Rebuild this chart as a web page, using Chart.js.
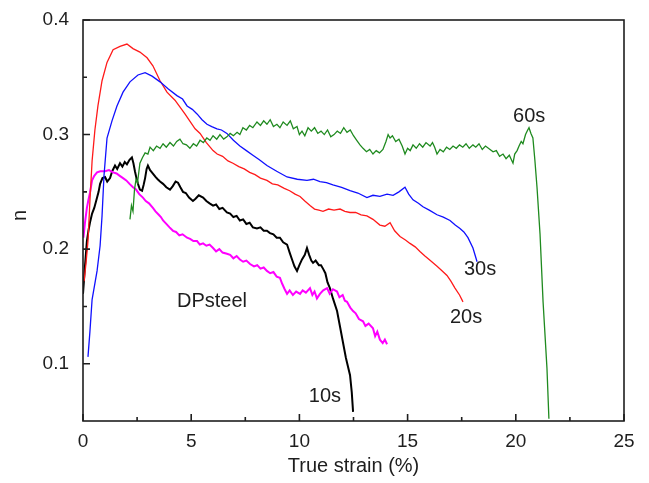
<!DOCTYPE html>
<html>
<head>
<meta charset="utf-8">
<script src="https://cdn.jsdelivr.net/npm/chart.js@4/dist/chart.umd.min.js"></script>
<style>
  html, body { margin: 0; padding: 0; background: #fff; }
  #wrap { width: 649px; height: 483px; }
</style>
</head>
<body>
<div id="wrap"><canvas id="nChart" width="649" height="483"></canvas></div>
<script>
// axis ticks
const xMajor = [0, 5, 10, 15, 20, 25];
const xMinor = [2.5, 7.5, 12.5, 17.5, 22.5];
const yMajor = [0.1, 0.2, 0.3, 0.4];
const yMinor = [0.15, 0.25, 0.35];

// series: true strain (%) and n value
const s20x = [0.05, 0.14, 0.23, 0.32, 0.42, 0.55, 0.69, 0.88, 1.11, 1.39, 1.71, 2.03, 2.31, 2.63, 2.96, 3.23, 3.56, 3.88, 4.25, 4.71, 5.18, 5.41, 5.70, 6.01, 6.20, 6.45, 6.70, 6.93, 7.20, 7.45, 7.70, 7.95, 8.20, 8.50, 8.75, 9.00, 9.30, 9.55, 9.80, 10.03, 10.25, 10.49, 10.70, 10.90, 11.09, 11.35, 11.60, 11.88, 12.10, 12.34, 12.60, 12.85, 13.12, 13.40, 13.72, 13.95, 14.19, 14.40, 14.65, 14.90, 15.11, 15.35, 15.57, 15.80, 16.05, 16.36, 16.60, 16.82, 17.00, 17.19, 17.40, 17.56];
const s20y = [0.172, 0.188, 0.207, 0.242, 0.277, 0.304, 0.325, 0.347, 0.363, 0.374, 0.377, 0.379, 0.375, 0.372, 0.367, 0.360, 0.347, 0.337, 0.330, 0.318, 0.305, 0.301, 0.293, 0.286, 0.283, 0.281, 0.277, 0.275, 0.272, 0.270, 0.267, 0.265, 0.262, 0.260, 0.257, 0.256, 0.253, 0.251, 0.248, 0.246, 0.242, 0.238, 0.235, 0.234, 0.233, 0.235, 0.234, 0.235, 0.233, 0.232, 0.232, 0.230, 0.229, 0.226, 0.221, 0.220, 0.223, 0.216, 0.211, 0.208, 0.205, 0.202, 0.198, 0.194, 0.190, 0.185, 0.181, 0.177, 0.172, 0.166, 0.160, 0.154];

const s30x = [0.23, 0.32, 0.42, 0.65, 0.79, 0.88, 0.97, 1.11, 1.34, 1.57, 1.85, 2.17, 2.54, 2.87, 3.19, 3.56, 3.93, 4.34, 4.60, 4.81, 5.05, 5.27, 5.50, 5.73, 5.95, 6.19, 6.40, 6.65, 6.95, 7.25, 7.55, 7.85, 8.15, 8.50, 8.95, 9.43, 9.90, 10.35, 10.65, 10.95, 11.25, 11.55, 11.95, 12.34, 12.70, 13.12, 13.40, 13.72, 14.05, 14.33, 14.60, 14.88, 15.05, 15.25, 15.50, 15.71, 16.00, 16.36, 16.65, 16.96, 17.20, 17.42, 17.60, 17.79, 18.02, 18.21];
const s30y = [0.106, 0.128, 0.156, 0.181, 0.203, 0.229, 0.264, 0.297, 0.312, 0.325, 0.337, 0.346, 0.352, 0.354, 0.351, 0.346, 0.340, 0.334, 0.331, 0.325, 0.322, 0.318, 0.313, 0.309, 0.307, 0.305, 0.304, 0.301, 0.295, 0.290, 0.286, 0.282, 0.278, 0.273, 0.268, 0.263, 0.261, 0.260, 0.261, 0.259, 0.258, 0.256, 0.254, 0.251, 0.249, 0.245, 0.247, 0.246, 0.248, 0.247, 0.250, 0.254, 0.248, 0.243, 0.240, 0.237, 0.234, 0.230, 0.228, 0.225, 0.221, 0.218, 0.215, 0.210, 0.201, 0.189];

const s60x = [2.17, 2.24, 2.31, 2.38, 2.45, 2.52, 2.63, 2.75, 2.87, 3.00, 3.10, 3.25, 3.40, 3.56, 3.70, 3.85, 4.02, 4.18, 4.33, 4.48, 4.62, 4.78, 4.94, 5.10, 5.25, 5.41, 5.56, 5.72, 5.87, 6.01, 6.18, 6.33, 6.50, 6.65, 6.80, 6.95, 7.12, 7.25, 7.39, 7.55, 7.70, 7.85, 8.04, 8.20, 8.35, 8.50, 8.65, 8.80, 8.96, 9.10, 9.25, 9.43, 9.58, 9.72, 9.89, 10.00, 10.12, 10.25, 10.40, 10.55, 10.70, 10.85, 11.00, 11.15, 11.30, 11.45, 11.60, 11.75, 11.90, 12.05, 12.20, 12.35, 12.50, 12.65, 12.80, 12.94, 13.10, 13.25, 13.40, 13.55, 13.70, 13.86, 14.00, 14.10, 14.19, 14.30, 14.45, 14.60, 14.75, 14.88, 15.00, 15.12, 15.25, 15.40, 15.55, 15.70, 15.85, 16.04, 16.15, 16.25, 16.36, 16.50, 16.65, 16.80, 16.95, 17.10, 17.25, 17.40, 17.55, 17.70, 17.85, 18.02, 18.15, 18.30, 18.45, 18.60, 18.81, 18.95, 19.10, 19.25, 19.41, 19.55, 19.70, 19.87, 19.95, 20.06, 20.15, 20.25, 20.33, 20.45, 20.55, 20.61, 20.70, 20.79, 20.88, 20.98, 21.12, 21.26, 21.44, 21.53];
const s60y = [0.226, 0.238, 0.233, 0.252, 0.261, 0.258, 0.275, 0.280, 0.284, 0.283, 0.289, 0.286, 0.290, 0.288, 0.292, 0.289, 0.293, 0.290, 0.294, 0.296, 0.292, 0.291, 0.288, 0.292, 0.290, 0.295, 0.293, 0.297, 0.295, 0.299, 0.296, 0.300, 0.296, 0.298, 0.301, 0.299, 0.302, 0.300, 0.306, 0.304, 0.308, 0.306, 0.311, 0.308, 0.312, 0.309, 0.313, 0.307, 0.309, 0.306, 0.311, 0.308, 0.312, 0.305, 0.307, 0.300, 0.303, 0.299, 0.306, 0.303, 0.306, 0.301, 0.303, 0.300, 0.304, 0.298, 0.300, 0.303, 0.301, 0.306, 0.302, 0.304, 0.299, 0.295, 0.291, 0.288, 0.285, 0.287, 0.283, 0.286, 0.284, 0.287, 0.294, 0.300, 0.297, 0.299, 0.294, 0.296, 0.290, 0.283, 0.288, 0.286, 0.291, 0.288, 0.292, 0.289, 0.293, 0.290, 0.293, 0.289, 0.283, 0.287, 0.285, 0.289, 0.287, 0.290, 0.288, 0.291, 0.289, 0.292, 0.288, 0.291, 0.289, 0.292, 0.287, 0.290, 0.287, 0.285, 0.286, 0.281, 0.283, 0.279, 0.282, 0.275, 0.283, 0.286, 0.290, 0.294, 0.292, 0.300, 0.304, 0.306, 0.301, 0.297, 0.278, 0.254, 0.213, 0.154, 0.096, 0.052];

const s10x = [0.00, 0.09, 0.18, 0.25, 0.32, 0.42, 0.52, 0.65, 0.72, 0.79, 0.90, 1.02, 1.12, 1.25, 1.35, 1.48, 1.58, 1.71, 1.82, 1.93, 2.03, 2.15, 2.26, 2.33, 2.40, 2.47, 2.54, 2.63, 2.73, 2.80, 2.87, 2.94, 3.00, 3.10, 3.23, 3.35, 3.45, 3.56, 3.70, 3.85, 4.02, 4.15, 4.28, 4.39, 4.50, 4.62, 4.75, 4.90, 5.08, 5.20, 5.35, 5.55, 5.70, 5.85, 6.01, 6.15, 6.30, 6.45, 6.65, 6.80, 6.95, 7.10, 7.25, 7.40, 7.55, 7.70, 7.85, 8.04, 8.20, 8.35, 8.50, 8.64, 8.80, 8.95, 9.10, 9.25, 9.43, 9.55, 9.66, 9.77, 9.89, 10.00, 10.12, 10.25, 10.35, 10.45, 10.55, 10.63, 10.75, 10.90, 11.00, 11.09, 11.20, 11.30, 11.41, 11.55, 11.74, 11.88, 12.01, 12.15, 12.34, 12.42, 12.48];
const s10y = [0.161, 0.185, 0.207, 0.216, 0.223, 0.231, 0.236, 0.245, 0.250, 0.257, 0.262, 0.263, 0.259, 0.262, 0.268, 0.273, 0.270, 0.275, 0.272, 0.276, 0.274, 0.278, 0.280, 0.275, 0.268, 0.262, 0.257, 0.252, 0.251, 0.256, 0.262, 0.270, 0.273, 0.269, 0.266, 0.263, 0.261, 0.259, 0.257, 0.254, 0.252, 0.255, 0.259, 0.258, 0.254, 0.250, 0.249, 0.245, 0.242, 0.244, 0.247, 0.245, 0.242, 0.240, 0.238, 0.239, 0.235, 0.236, 0.232, 0.231, 0.228, 0.229, 0.225, 0.226, 0.222, 0.223, 0.219, 0.218, 0.219, 0.216, 0.216, 0.214, 0.213, 0.210, 0.210, 0.206, 0.204, 0.197, 0.191, 0.185, 0.181, 0.186, 0.191, 0.195, 0.201, 0.195, 0.190, 0.188, 0.190, 0.186, 0.186, 0.183, 0.179, 0.171, 0.166, 0.157, 0.146, 0.132, 0.119, 0.105, 0.090, 0.075, 0.058];

const dpx = [0.02, 0.09, 0.18, 0.25, 0.32, 0.42, 0.52, 0.65, 0.80, 1.02, 1.20, 1.39, 1.55, 1.70, 1.85, 2.00, 2.15, 2.31, 2.45, 2.60, 2.77, 2.90, 3.05, 3.23, 3.35, 3.50, 3.60, 3.70, 3.85, 4.00, 4.16, 4.30, 4.45, 4.60, 4.81, 4.95, 5.10, 5.27, 5.40, 5.55, 5.70, 5.85, 6.01, 6.15, 6.30, 6.45, 6.65, 6.80, 6.95, 7.10, 7.25, 7.40, 7.55, 7.72, 7.90, 8.05, 8.20, 8.35, 8.50, 8.65, 8.80, 8.95, 9.10, 9.20, 9.32, 9.43, 9.55, 9.70, 9.85, 10.03, 10.15, 10.30, 10.49, 10.60, 10.70, 10.81, 10.95, 11.10, 11.28, 11.40, 11.55, 11.74, 11.85, 12.00, 12.10, 12.20, 12.35, 12.48, 12.60, 12.75, 12.94, 13.05, 13.20, 13.40, 13.50, 13.60, 13.72, 13.85, 13.95, 14.05];
const dpy = [0.210, 0.223, 0.236, 0.243, 0.249, 0.260, 0.264, 0.267, 0.268, 0.268, 0.269, 0.267, 0.266, 0.264, 0.262, 0.260, 0.257, 0.254, 0.252, 0.248, 0.245, 0.242, 0.240, 0.236, 0.233, 0.230, 0.228, 0.225, 0.222, 0.219, 0.216, 0.215, 0.212, 0.213, 0.210, 0.209, 0.207, 0.207, 0.204, 0.205, 0.203, 0.204, 0.201, 0.198, 0.200, 0.197, 0.196, 0.195, 0.192, 0.194, 0.191, 0.189, 0.190, 0.187, 0.185, 0.186, 0.183, 0.184, 0.181, 0.179, 0.180, 0.176, 0.175, 0.170, 0.165, 0.161, 0.164, 0.160, 0.163, 0.161, 0.164, 0.162, 0.166, 0.160, 0.163, 0.157, 0.161, 0.164, 0.166, 0.161, 0.165, 0.163, 0.158, 0.160, 0.155, 0.154, 0.149, 0.146, 0.144, 0.139, 0.137, 0.133, 0.135, 0.131, 0.124, 0.128, 0.121, 0.118, 0.121, 0.117];

// text labels placed in data coordinates
const noteText = ['60s', '30s', '20s', 'DPsteel', '10s'];
const noteX = [20.62, 18.35, 17.70, 5.96, 11.18];
const noteY = [0.316, 0.182, 0.140, 0.154, 0.071];

const pts = (xs, ys) => xs.map((x, i) => ({ x, y: ys[i] }));
const font = "'Liberation Sans', Arial, sans-serif";
const ink = '#1e1e1e';

const frameAndNotes = {
  id: 'frameAndNotes',
  afterDraw(chart) {
    const { ctx, chartArea: a, scales: { x, y } } = chart;
    ctx.save();
    ctx.strokeStyle = ink;
    ctx.lineWidth = 1.6;
    ctx.strokeRect(a.left, a.top, a.right - a.left, a.bottom - a.top);
    ctx.beginPath();
    xMajor.forEach(v => { const p = x.getPixelForValue(v); ctx.moveTo(p, a.bottom); ctx.lineTo(p, a.bottom - 7); });
    xMinor.forEach(v => { const p = x.getPixelForValue(v); ctx.moveTo(p, a.bottom); ctx.lineTo(p, a.bottom - 4); });
    yMajor.forEach(v => { const p = y.getPixelForValue(v); ctx.moveTo(a.left, p); ctx.lineTo(a.left + 7, p); });
    yMinor.forEach(v => { const p = y.getPixelForValue(v); ctx.moveTo(a.left, p); ctx.lineTo(a.left + 4, p); });
    ctx.stroke();

    ctx.fillStyle = ink;
    ctx.font = '20px ' + font;
    ctx.textAlign = 'center';
    ctx.textBaseline = 'middle';
    noteText.forEach((t, i) => ctx.fillText(t, x.getPixelForValue(noteX[i]), y.getPixelForValue(noteY[i])));

    ctx.fillText('True strain (%)', (a.left + a.right) / 2, 466);
    ctx.translate(20, (a.top + a.bottom) / 2 - 5);
    ctx.rotate(-Math.PI / 2);
    ctx.fillText('n', 0, 0);
    ctx.restore();
  }
};

const line = (data, color, width) => ({
  data, borderColor: color, backgroundColor: color, borderWidth: width,
  showLine: true, pointRadius: 0, tension: 0, fill: false
});

new Chart(document.getElementById('nChart'), {
  type: 'scatter',
  data: {
    datasets: [
      line(pts(s60x, s60y), '#1f8a1f', 1.3),
      line(pts(s30x, s30y), '#1010ff', 1.3),
      line(pts(s20x, s20y), '#ff1a1a', 1.3),
      line(pts(dpx, dpy), '#ff00ff', 2),
      line(pts(s10x, s10y), '#000000', 2)
    ]
  },
  options: {
    responsive: false,
    animation: false,
    events: [],
    layout: { padding: { left: 0, top: 20, right: 25, bottom: 0 } },
    plugins: { legend: { display: false }, tooltip: { enabled: false } },
    scales: {
      x: {
        type: 'linear', min: 0, max: 25,
        afterFit: s => { s.height = 62; s.paddingLeft = 0; s.paddingRight = 0; },
        afterBuildTicks: s => { s.ticks = xMajor.map(v => ({ value: v })); },
        grid: { display: false, drawTicks: false },
        border: { display: false },
        ticks: { autoSkip: false, maxRotation: 0, padding: 9, color: ink, font: { family: font, size: 19 } }
      },
      y: {
        type: 'linear', min: 0.05, max: 0.4,
        afterFit: s => { s.width = 83; s.paddingTop = 0; s.paddingBottom = 0; },
        afterBuildTicks: s => { s.ticks = yMajor.map(v => ({ value: v })); },
        grid: { display: false, drawTicks: false },
        border: { display: false },
        ticks: { autoSkip: false, padding: 14, color: ink, font: { family: font, size: 19 }, callback: v => v.toFixed(1) }
      }
    }
  },
  plugins: [frameAndNotes]
});
</script>
</body>
</html>
